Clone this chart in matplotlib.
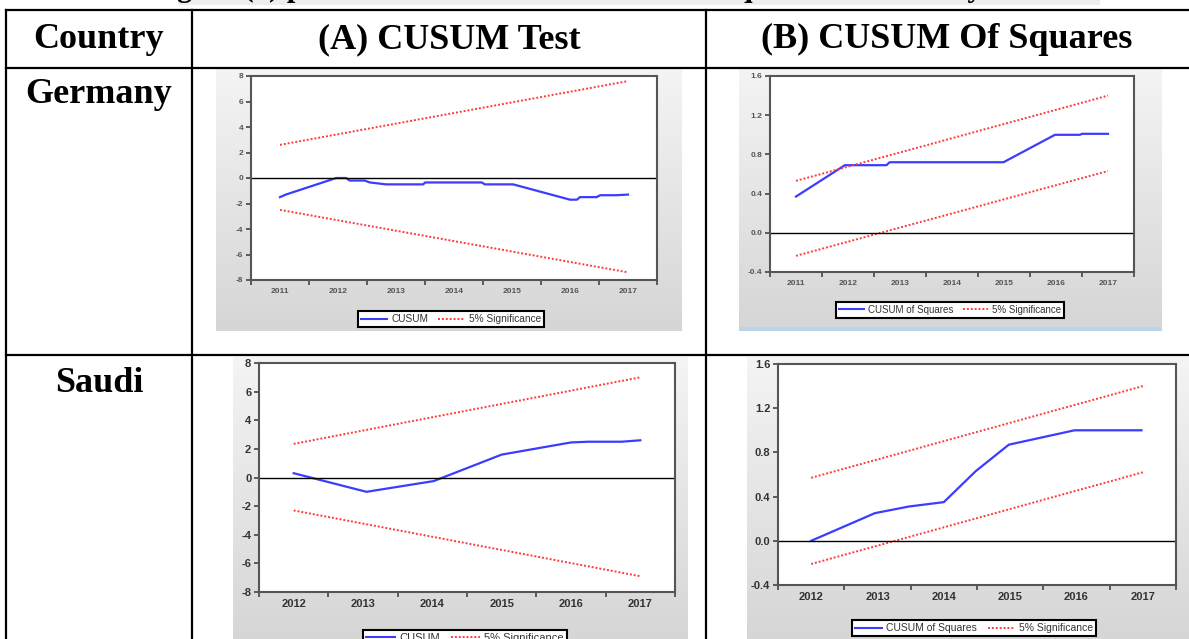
import numpy as np
import matplotlib.pyplot as plt
from matplotlib.colors import LinearSegmentedColormap
from matplotlib.lines import Line2D

W, H = 1189, 639

# ---- data ----
# Germany, CUSUM
de_cusum_t = [2011.0, 2011.1, 2011.97, 2012.14, 2012.2, 2012.46, 2012.55, 2012.83, 2013.47,
              2013.5, 2014.48, 2014.53, 2015.02, 2016.0, 2016.12, 2016.17, 2016.46, 2016.52,
              2016.8, 2017.0]
de_cusum = [-1.5, -1.3, 0.0, 0.0, -0.2, -0.2, -0.35, -0.5, -0.5,
            -0.35, -0.35, -0.5, -0.5, -1.7, -1.7, -1.5, -1.5, -1.35,
            -1.35, -1.3]
de_cusum_bound_t = [2011.0, 2017.0]
de_cusum_upper = [2.6, 7.6]
de_cusum_lower = [-2.5, -7.4]

# Germany, CUSUM of squares
de_sq_t = [2011.0, 2011.94, 2012.74, 2012.8, 2014.99, 2015.98, 2016.46, 2016.5, 2017.0]
de_sq = [0.37, 0.69, 0.69, 0.72, 0.72, 1.0, 1.0, 1.01, 1.01]
de_sq_bound_t = [2011.0, 2017.0]
de_sq_upper = [0.53, 1.40]
de_sq_lower = [-0.235, 0.63]

# Saudi, CUSUM
sa_cusum_t = [2012.0, 2013.05, 2014.02, 2015.0, 2016.0, 2016.25, 2016.73, 2017.0]
sa_cusum = [0.3, -1.0, -0.25, 1.6, 2.45, 2.5, 2.5, 2.6]
sa_cusum_bound_t = [2012.0, 2017.0]
sa_cusum_upper = [2.35, 7.0]
sa_cusum_lower = [-2.3, -6.9]

# Saudi, CUSUM of squares
sa_sq_t = [2012.0, 2012.96, 2013.47, 2014.0, 2014.48, 2014.98, 2015.97, 2016.98]
sa_sq = [0.0, 0.25, 0.31, 0.35, 0.63, 0.87, 1.0, 1.0]
sa_sq_bound_t = [2012.0, 2017.0]
sa_sq_upper = [0.57, 1.40]
sa_sq_lower = [-0.21, 0.62]

de_years = [2011, 2012, 2013, 2014, 2015, 2016, 2017]
sa_years = [2012, 2013, 2014, 2015, 2016, 2017]

col_headers = ["Country", "(A) CUSUM Test", "(B) CUSUM Of Squares"]
countries = ["Germany", "Saudi"]

plt.rcParams['font.family'] = ['Liberation Sans', 'DejaVu Sans']

fig = plt.figure(figsize=(W / 100, H / 100), dpi=100)


def rect(x0, y0, x1, y1):
    # pixel box (top-left origin) -> figure fraction rect
    return [x0 / W, 1 - y1 / H, (x1 - x0) / W, (y1 - y0) / H]


gray = LinearSegmentedColormap.from_list('g', ['#f4f4f4', '#d6d6d6'])


def panel(x0, y0, x1, y1):
    a = fig.add_axes(rect(x0, y0, x1, y1), zorder=0)
    a.imshow(np.linspace(0, 1, 100).reshape(-1, 1), aspect='auto', cmap=gray,
             extent=[0, 1, 0, 1])
    a.set_axis_off()


def chart(box, years, t, y, bt, up, lo, yticks, yfmt, label, lsize, lcol, lweight,
          leg_top, leg_cx, legsize, tsize):
    ax = fig.add_axes(rect(*box), zorder=2)
    ax.set_facecolor('white')
    ax.plot(t, y, color='#3c3cff', lw=1.6)
    ax.plot(bt, up, color='#ff3a3a', lw=1.4, ls=(0, (1, 1)))
    ax.plot(bt, lo, color='#ff3a3a', lw=1.4, ls=(0, (1, 1)))
    ax.axhline(0, color='black', lw=1)
    ax.set_xlim(years[0] - 0.5, years[-1] + 0.5)
    ax.set_ylim(yticks[0], yticks[-1])
    ax.set_yticks(yticks)
    ax.set_yticklabels([yfmt % v for v in yticks], fontsize=lsize, color=lcol,
                       fontweight=lweight)
    ax.set_xticks([v - 0.5 for v in years] + [years[-1] + 0.5])
    ax.set_xticklabels([])
    ax.set_xticks(years, minor=True)
    ax.set_xticklabels([str(v) for v in years], minor=True, fontsize=lsize, color=lcol,
                       fontweight=lweight)
    ax.tick_params(axis='x', which='minor', length=0, pad=tsize)
    ax.tick_params(axis='both', which='major', direction='out', length=3.5, width=1.2,
                   color='#444444', pad=2)
    for s in ax.spines.values():
        s.set_color('#555555')
        s.set_linewidth(1.5)
    handles = [Line2D([], [], color='#3c3cff', lw=1.5),
               Line2D([], [], color='#ff3a3a', lw=1.4, ls=(0, (1, 1)))]
    leg = ax.legend(handles, [label, '5% Significance'], loc='upper center',
                    bbox_to_anchor=(leg_cx / W, 1 - leg_top / H), bbox_transform=fig.transFigure,
                    ncol=2, fontsize=legsize, frameon=True, fancybox=False, framealpha=1,
                    edgecolor='black', facecolor='white', handlelength=2.6,
                    borderpad=0.3, columnspacing=1.0, handletextpad=0.4)
    leg.get_frame().set_linewidth(1.5)
    for txt in leg.get_texts():
        txt.set_color('#333333')
    return ax


# gray picture backgrounds
panel(216, 68, 682, 331)
panel(739, 68, 1162, 327)
fig.add_artist(plt.Rectangle((739 / W, 1 - 331 / H), (1162 - 739) / W, 4 / H,
                             transform=fig.transFigure, color='#bcd4ea', lw=0, zorder=1))
panel(233, 357, 688, 639)
panel(747, 357, 1189, 639)

chart((251, 76, 657, 280), de_years, de_cusum_t, de_cusum, de_cusum_bound_t,
      de_cusum_upper, de_cusum_lower, list(range(-8, 9, 2)), '%d', 'CUSUM',
      6, '#555555', 'bold', 306, 451, 7.3, 6)
chart((770, 76, 1134, 272), de_years, de_sq_t, de_sq, de_sq_bound_t,
      de_sq_upper, de_sq_lower, [-0.4, 0.0, 0.4, 0.8, 1.2, 1.6], '%.1f', 'CUSUM of Squares',
      6, '#555555', 'bold', 297, 950, 7, 6)
chart((259, 363, 675, 592), sa_years, sa_cusum_t, sa_cusum, sa_cusum_bound_t,
      sa_cusum_upper, sa_cusum_lower, list(range(-8, 9, 2)), '%d', 'CUSUM',
      8, '#333333', 'bold', 624, 465, 8, 5)
chart((778, 364, 1176, 585), sa_years, sa_sq_t, sa_sq, sa_sq_bound_t,
      sa_sq_upper, sa_sq_lower, [-0.4, 0.0, 0.4, 0.8, 1.2, 1.6], '%.1f', 'CUSUM of Squares',
      8, '#333333', 'bold', 615, 974, 7.5, 5)

# cut-off caption above the table
fig.add_artist(plt.Rectangle((178 / W, 1 - 5 / H), (1100 - 178) / W, 5 / H,
                             transform=fig.transFigure, color='#eeeeee', lw=0, zorder=1))
fig.text(150 / W, 1 + 4 / H, 'Figure (1) plots of CUSUM and CUSUM of Squares for stability test',
         fontsize=22, fontweight='bold', family='Liberation Serif', va='baseline', zorder=3)

# table grid
lw = 1.6
for yy in [10, 68, 355]:
    fig.add_artist(Line2D([6 / W, 1], [1 - yy / H] * 2, color='black', lw=lw, zorder=4))
for xx in [6, 192, 706]:
    fig.add_artist(Line2D([xx / W] * 2, [1 - 10 / H, 0], color='black', lw=lw, zorder=4))

serif = dict(fontsize=26, fontweight='bold', family='Liberation Serif', ha='center',
             va='baseline', zorder=5)
for cx, s in zip([99, 449, 947], col_headers):
    fig.text(cx / W, 1 - 48 / H, s, **serif)
for cy, s in zip([103, 392], countries):
    fig.text(99 / W, 1 - cy / H, s, **serif)

fig.savefig('out.png', dpi=100)
